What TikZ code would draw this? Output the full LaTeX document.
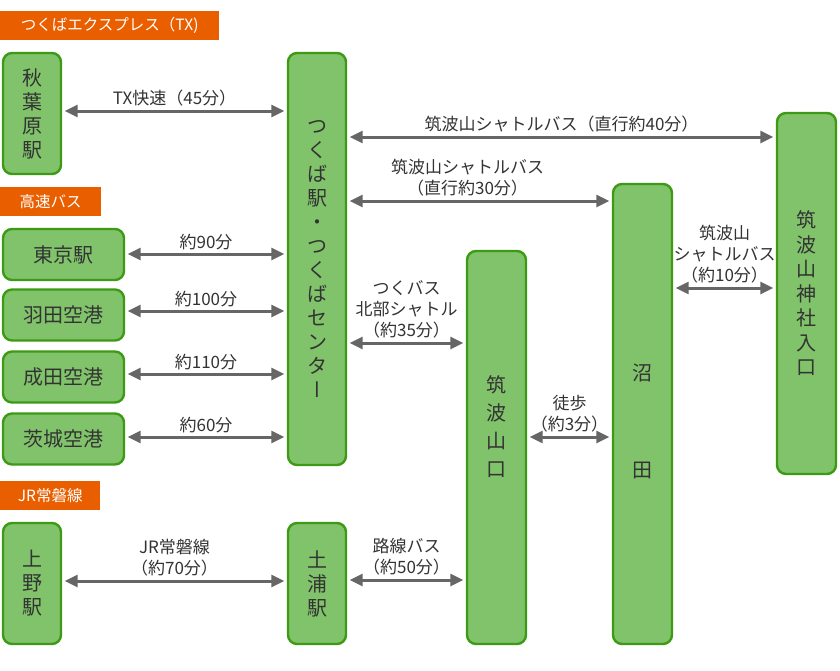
\documentclass[tikz,border=0pt]{standalone}
\usepackage{fontspec}
\setmainfont{Noto Sans CJK JP}
\newfontfamily\vertjp[RawFeature=+vert]{Noto Sans CJK JP}
\usepackage{xcolor}
\usetikzlibrary{arrows.meta,positioning,calc}

\definecolor{stationfill}{HTML}{80C36A}
\definecolor{stationline}{HTML}{3C9A14}
\definecolor{linebar}{HTML}{E95F00}
\definecolor{routegray}{HTML}{666666}
\definecolor{textgray}{HTML}{333333}

\begin{document}
\begin{tikzpicture}[x=1pt,y=-1pt,
  station/.style={rectangle,rounded corners=9pt,draw=stationline,fill=stationfill,line width=2.4pt,text=textgray,align=center,inner sep=0pt,font=\fontsize{20}{24}\selectfont},
  tall/.style={station,minimum width=58pt},
  wide/.style={station,minimum width=121pt,minimum height=51pt},
  linebox/.style={rectangle,fill=linebar,text=white,anchor=west,inner sep=0pt,minimum height=29pt,font=\fontsize{15.5}{18}\selectfont},
  route/.style={{Triangle[length=13pt,width=12pt]}-{Triangle[length=13pt,width=12pt]},line width=3pt,draw=routegray,shorten <=2.5pt,shorten >=2.5pt},
  time/.style={text=textgray,align=center,inner sep=3pt,font=\fontsize{17}{21}\selectfont}]
\useasboundingbox (0,0) rectangle (840,670);

% Tsukuba Express
\node[linebox,minimum width=219pt] (txbar) at (0,25.5) {つくばエクスプレス（TX)};
\node[tall,minimum height=121pt] (akiba) at (32,113.5) {秋\\葉\\原\\駅};
\node[tall,minimum height=412pt] (tsukuba) at (317,259) {つ\\く\\ば\\駅\\・\\つ\\く\\ば\\セ\\ン\\タ\\{\vertjp ー}};
\draw[route] (akiba.east |- 0,111) -- (tsukuba.west |- 0,111) node[time,midway,above] {TX快速（45分）};

% Highway bus
\node[linebox,minimum width=101pt] (busbar) at (0,201.5) {高速バス};
\node[wide] (tokyo) at (63.5,254.5) {東京駅};
\node[wide] (haneda) at (63.5,315) {羽田空港};
\node[wide] (narita) at (63.5,377) {成田空港};
\node[wide] (ibaraki) at (63.5,439) {茨城空港};
\draw[route] (tokyo.east |- 0,254) -- (tsukuba.west |- 0,254) node[time,midway,above] {約90分};
\draw[route] (haneda.east |- 0,311) -- (tsukuba.west |- 0,311) node[time,midway,above] {約100分};
\draw[route] (narita.east |- 0,374) -- (tsukuba.west |- 0,374) node[time,midway,above] {約110分};
\draw[route] (ibaraki.east |- 0,437) -- (tsukuba.west |- 0,437) node[time,midway,above] {約60分};

% JR Joban line
\node[linebox,minimum width=100pt] (jrbar) at (0,495.5) {JR常磐線};
\node[tall,minimum height=121pt] (ueno) at (32,583.5) {上\\野\\駅};
\node[tall,minimum height=121pt] (tsuchiura) at (317,583.5) {土\\浦\\駅};
\draw[route] (ueno.east |- 0,581) -- (tsuchiura.west |- 0,581) node[time,midway,above] {JR常磐線\\（約70分）};

% Mt. Tsukuba side
\node[tall,minimum width=59pt,minimum height=393pt] (sanguchi) at (496.5,447.5) {};
\node[text=textgray,align=center,inner sep=0pt,font=\fontsize{20}{28}\selectfont] (sanguchitxt) at (496.5,426.5) {筑\\波\\山\\口};
\node[tall,minimum width=59pt,minimum height=460pt] (numata) at (642.5,414) {};
\node[text=textgray,align=center,inner sep=0pt,font=\fontsize{20}{97}\selectfont] (numatatxt) at (642.5,421.5) {沼\\田};
\node[tall,minimum width=59pt,minimum height=361pt,font=\fontsize{20}{24.5}\selectfont] (jinja) at (806.5,293.5) {筑\\波\\山\\神\\社\\入\\口};

\draw[route] (tsukuba.east |- 0,137) -- (jinja.west |- 0,137) node[time,midway,above] {筑波山シャトルバス（直行約40分）};
\draw[route] (tsukuba.east |- 0,201) -- (numata.west |- 0,201) node[time,midway,above,xshift=-12pt] {筑波山シャトルバス\\（直行約30分）};
\draw[route] (numata.east |- 0,288) -- (jinja.west |- 0,288) node[time,midway,above] {筑波山\\シャトルバス\\（約10分）};
\draw[route] (tsukuba.east |- 0,343) -- (sanguchi.west |- 0,343) node[time,midway,above] {つくバス\\北部シャトル\\（約35分）};
\draw[route] (sanguchi.east |- 0,437) -- (numata.west |- 0,437) node[time,midway,above] {徒歩\\（約3分）};
\draw[route] (tsuchiura.east |- 0,580) -- (sanguchi.west |- 0,580) node[time,midway,above] {路線バス\\（約50分）};
\end{tikzpicture}
\end{document}
